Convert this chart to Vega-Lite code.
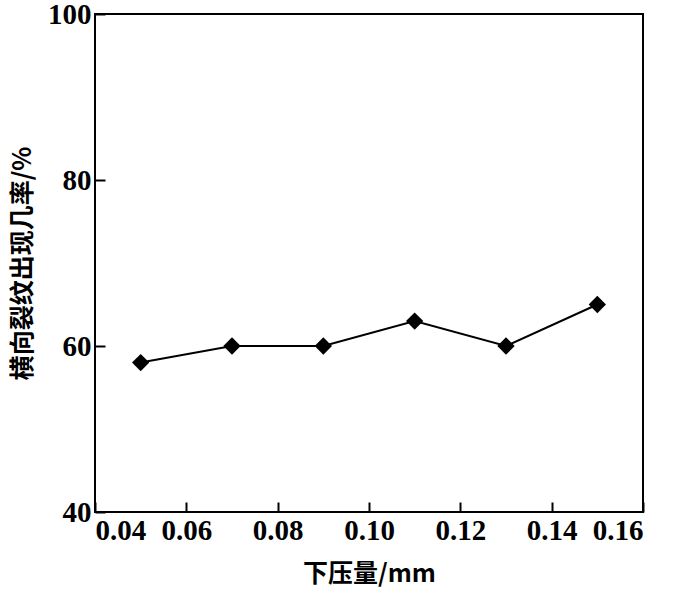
{
  "$schema": "https://vega.github.io/schema/vega-lite/v6.json",
  "width": 548,
  "height": 498,
  "autosize": {"type": "none"},
  "padding": {"left": 95, "top": 14, "right": 31, "bottom": 84},
  "background": "white",
  "config": {
    "view": {"stroke": "black", "strokeWidth": 2},
    "axis": {
      "domain": false,
      "grid": false,
      "ticks": true,
      "tickColor": "black",
      "tickWidth": 2,
      "tickSize": -10,
      "labelFont": "Liberation Serif",
      "labelFontWeight": "bold",
      "labelFontSize": 29,
      "labelColor": "black",
      "titleFont": "Noto Sans CJK SC",
      "titleFontWeight": "bold",
      "titleFontSize": 25,
      "titleColor": "black"
    }
  },
  "data": {
    "values": [
      {"x": 0.05, "y": 58},
      {"x": 0.07, "y": 60},
      {"x": 0.09, "y": 60},
      {"x": 0.11, "y": 63},
      {"x": 0.13, "y": 60},
      {"x": 0.15, "y": 65}
    ]
  },
  "layer": [
    {
      "mark": {"type": "line", "color": "black", "strokeWidth": 2},
      "encoding": {
        "x": {"field": "x", "type": "quantitative"},
        "y": {"field": "y", "type": "quantitative"}
      }
    },
    {
      "mark": {"type": "point", "shape": "diamond", "filled": true, "color": "black", "opacity": 1, "size": 300},
      "encoding": {
        "x": {
          "field": "x", "type": "quantitative",
          "scale": {"domain": [0.04, 0.16], "nice": false},
          "axis": {"values": [0.04, 0.06, 0.08, 0.10, 0.12, 0.14, 0.16], "format": ".2f", "labelPadding": 14, "title": "下压量/mm", "titlePadding": 16}
        },
        "y": {
          "field": "y", "type": "quantitative",
          "scale": {"domain": [40, 100], "nice": false, "zero": false},
          "axis": {"values": [40, 60, 80, 100], "labelPadding": 14, "title": "横向裂纹出现几率/%", "titlePadding": 12}
        }
      }
    }
  ]
}
